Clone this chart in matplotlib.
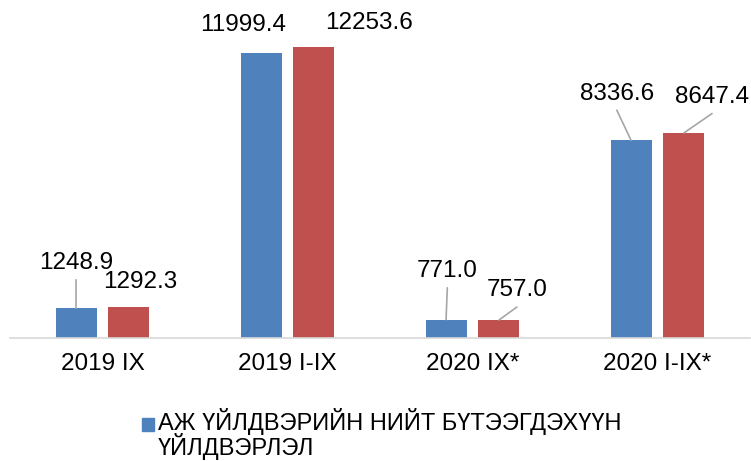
import numpy as np
import matplotlib.pyplot as plt
from matplotlib.patches import Rectangle
from matplotlib.transforms import offset_copy

plt.rcParams['font.family'] = ['Liberation Sans', 'DejaVu Sans']

categories = ["2019 IX", "2019 I-IX", "2020 IX*", "2020 I-IX*"]
series_a = [1248.9, 11999.4, 771.0, 8336.6]
series_b = [1292.3, 12253.6, 757.0, 8647.4]
legend_label = "АЖ ҮЙЛДВЭРИЙН НИЙТ БҮТЭЭГДЭХҮҮН\nҮЙЛДВЭРЛЭЛ"

blue = "#4F81BD"
red = "#C0504D"

# label positions (x offset from category, y in data units) and leader-line flags
lab_a_dx = [-0.143, -0.24, -0.136, -0.22]
lab_a_y = [3160, 13200, 2820, 10310]
line_a = [True, False, True, True]
lab_b_dx = [0.203, 0.44, 0.24, 0.295]
lab_b_y = [2370, 13300, 2010, 10170]
line_b = [False, False, True, True]

fig = plt.figure(figsize=(7.51, 4.61), dpi=100)
ax = fig.add_axes([10/751, 123/461, 740/751, 332/461])

x = np.arange(len(categories))
w = 0.222
off = 0.143
ax.bar(x - off, series_a, w, color=blue)
ax.bar(x + off, series_b, w, color=red)

ax.set_xlim(-0.5, 3.5)
ax.set_ylim(0, 14000)
ax.set_yticks([])
ax.set_xticks(x)
ax.set_xticklabels(categories, fontsize=17.5)
ax.tick_params(axis='x', length=0, pad=11)
for s in ['top', 'right', 'left']:
    ax.spines[s].set_visible(False)
ax.spines['bottom'].set_color('#D9D9D9')
ax.spines['bottom'].set_linewidth(1.2)

below = offset_copy(ax.transData, fig=fig, x=0, y=-12, units='points')

def label(xb, val, lx, ly, line):
    ax.text(lx, ly, f"{val:.1f}", ha='center', va='center', fontsize=17.5,
            color='black', clip_on=False)
    if line:
        ax.annotate('', xy=(xb, val), xytext=(lx, ly), textcoords=below,
                    arrowprops=dict(arrowstyle='-', color='#A6A6A6', lw=1.2,
                                    shrinkA=0, shrinkB=0))

for i in range(len(categories)):
    label(x[i] - off, series_a[i], x[i] + lab_a_dx[i], lab_a_y[i], line_a[i])
    label(x[i] + off, series_b[i], x[i] + lab_b_dx[i], lab_b_y[i], line_b[i])

# legend (single visible entry)
fig.patches.append(Rectangle((142/751, 1 - 431/461), 12/751, 13/461,
                             transform=fig.transFigure, color=blue))
fig.text(158/751, 1 - 434/461, legend_label, ha='left', va='center',
         fontsize=17, linespacing=0.92)

fig.savefig("out.png", dpi=100)
